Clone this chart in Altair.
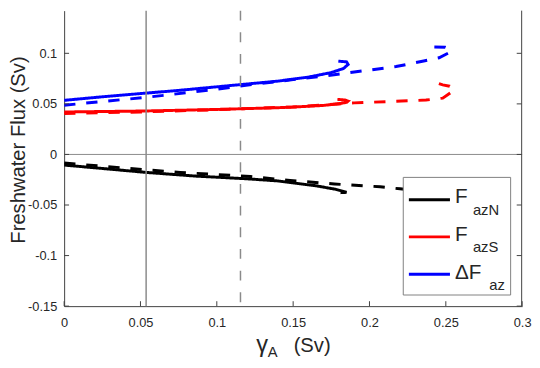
import altair as alt
import pandas as pd

# ---------------- data ----------------
dfN_solid_x = [0, 0.054, 0.087, 0.119, 0.14, 0.165, 0.178, 0.185, 0.181]
dfN_solid_y = [-0.0105, -0.0178, -0.0215, -0.024, -0.0262, -0.031, -0.0345, -0.0375, -0.0378]
dfN_dash_x = [0, 0.054, 0.076, 0.122, 0.148, 0.177, 0.207, 0.22, 0.24, 0.254, 0.248]
dfN_dash_y = [-0.0085, -0.0152, -0.0178, -0.0218, -0.0257, -0.0292, -0.032, -0.034, -0.037, -0.041, -0.044]

dfS_solid_x = [0, 0.054, 0.1, 0.14, 0.152, 0.17, 0.18, 0.185, 0.186, 0.184, 0.179]
dfS_solid_y = [0.042, 0.043, 0.0445, 0.0462, 0.047, 0.0485, 0.0502, 0.0515, 0.0528, 0.0538, 0.0545]
dfS_dash_x = [0, 0.05, 0.1, 0.15, 0.19, 0.221, 0.237, 0.248, 0.2535, 0.2555, 0.2525, 0.248, 0.241]
dfS_dash_y = [0.0405, 0.042, 0.0443, 0.047, 0.051, 0.0528, 0.0538, 0.0557, 0.0615, 0.065, 0.0675, 0.0688, 0.0723]

dD_solid_x = [0, 0.025, 0.054, 0.074, 0.115, 0.14, 0.16, 0.175, 0.183, 0.186, 0.185, 0.1796]
dD_solid_y = [0.0535, 0.057, 0.0607, 0.0632, 0.069, 0.0725, 0.0765, 0.081, 0.085, 0.089, 0.0915, 0.0923]
dD_dash_x = [0, 0.054, 0.1, 0.119, 0.15, 0.17, 0.19, 0.2174, 0.2355, 0.2456, 0.2523, 0.2535, 0.2495, 0.2415]
dD_dash_y = [0.0487, 0.0565, 0.0645, 0.0684, 0.074, 0.0775, 0.0815, 0.0869, 0.0924, 0.0956, 0.1008, 0.1035, 0.106, 0.1063]

series_names = ["FazN", "FazS", "dFaz"]
series_colors = ["#000000", "#ff0000", "#0000ff"]

x_ticks = [0, 0.05, 0.1, 0.15, 0.2, 0.25, 0.3]
y_ticks = [-0.15, -0.1, -0.05, 0, 0.05, 0.1]
zero_line = [0]
vline_solid = [0.0537]
vline_dashed = [0.1155]

legend_main = ["F", "F", "\u0394F"]
legend_sub = ["azN", "azS", "az"]
y_title = "Freshwater Flux (Sv)"
x_title_parts = ["\u03b3", "A", "(Sv)"]

# ---------------- build table ----------------
rows = []
curves = [
    ("FazN", "solid", dfN_solid_x, dfN_solid_y),
    ("FazN", "dashed", dfN_dash_x, dfN_dash_y),
    ("FazS", "solid", dfS_solid_x, dfS_solid_y),
    ("FazS", "dashed", dfS_dash_x, dfS_dash_y),
    ("dFaz", "solid", dD_solid_x, dD_solid_y),
    ("dFaz", "dashed", dD_dash_x, dD_dash_y),
]
for name, style, xs, ys in curves:
    for i, (a, b) in enumerate(zip(xs, ys)):
        rows.append({"series": name, "style": style, "key": name + style, "ord": i, "x": a, "y": b})
df = pd.DataFrame(rows)

FONT = "Liberation Sans"
W, H = 465, 300
AXC = "#404040"
TXT = "#262626"

xscale = alt.Scale(domain=[0, 0.3], nice=False, zero=False)
yscale = alt.Scale(domain=[-0.15, 0.1422], nice=False, zero=False)
fmt = "datum.value < 0 ? '-' + format(-datum.value, '.2~f') : format(datum.value, '.2~f')"
xaxis = alt.Axis(values=x_ticks, labelExpr=fmt, ticks=False, tickSize=0, grid=False,
                 domain=True, domainColor=AXC, domainWidth=1, labelFont=FONT, labelFontSize=13,
                 labelColor=TXT, labelPadding=11, labelFlush=False, labelOverlap=False,
                 labelBound=False, title=None)
yaxis = alt.Axis(values=y_ticks, labelExpr=fmt, ticks=False, tickSize=0, grid=False,
                 domain=True, domainColor=AXC, domainWidth=1, labelFont=FONT, labelFontSize=13,
                 labelColor=TXT, labelPadding=7.5, labelFlush=False, labelOverlap=False,
                 labelBound=False, title=None)

X = lambda: alt.X("x:Q", scale=xscale, axis=xaxis)
Y = lambda: alt.Y("y:Q", scale=yscale, axis=yaxis)

zero = alt.Chart(pd.DataFrame({"y": zero_line})).mark_rule(color="#8a8a8a", strokeWidth=1).encode(
    y=Y(), x=alt.value(0), x2=alt.value(W))

lines = alt.Chart(df).mark_line(strokeWidth=3, clip=True).encode(
    x=X(), y=Y(),
    color=alt.Color("series:N", scale=alt.Scale(domain=series_names, range=series_colors), legend=None),
    strokeDash=alt.StrokeDash("style:N", scale=alt.Scale(domain=["solid", "dashed"], range=[[1, 0], [11.5, 11]]), legend=None),
    detail="key:N",
    order=alt.Order("ord:Q"),
)

vs = alt.Chart(pd.DataFrame({"x": vline_solid})).mark_rule(color="#8a8a8a", strokeWidth=1.5).encode(
    x=X(), y=alt.value(0), y2=alt.value(H))
vd = alt.Chart(pd.DataFrame({"x": vline_dashed})).mark_rule(color="#8a8a8a", strokeWidth=1.5, strokeDash=[10, 12]).encode(
    x=X(), y=alt.value(0), y2=alt.value(H))

xt = alt.Chart(pd.DataFrame({"x": x_ticks})).mark_rule(color=AXC, strokeWidth=1).encode(
    x=X(), y=alt.value(H), y2=alt.value(H - 5))
ytl = alt.Chart(pd.DataFrame({"y": y_ticks})).mark_rule(color=AXC, strokeWidth=1).encode(
    y=Y(), x=alt.value(0), x2=alt.value(5))
ytr = alt.Chart(pd.DataFrame({"y": y_ticks})).mark_rule(color=AXC, strokeWidth=1).encode(
    y=Y(), x=alt.value(W - 0.5), x2=alt.value(W - 5.5))
raxis = alt.Chart(pd.DataFrame({"y": zero_line})).mark_rule(color=AXC, strokeWidth=1).encode(
    x=alt.value(W - 0.5), y=alt.value(0), y2=alt.value(H))

layers = [zero, lines, vs, vd, xt, ytl, ytr, raxis]

# legend (manual, to allow subscripts)
box = alt.Chart(pd.DataFrame({"a": [0]})).mark_rect(fill="white", stroke="#808080", strokeWidth=1).encode(
    x=alt.value(344.3), x2=alt.value(453.3), y=alt.value(169.3), y2=alt.value(288.7))
layers.append(box)
row_base = [195.3, 233.7, 272.0]
sample_y = [192.0, 229.7, 267.7]
for i in range(3):
    layers.append(alt.Chart(pd.DataFrame({"a": [0]})).mark_rule(color=series_colors[i], strokeWidth=3).encode(
        x=alt.value(350), x2=alt.value(391.7), y=alt.value(sample_y[i])))
    layers.append(alt.Chart(pd.DataFrame({"t": [legend_main[i]]})).mark_text(
        font=FONT, fontSize=21, align="left", baseline="alphabetic", color=TXT).encode(
        text="t:N", x=alt.value(396.7), y=alt.value(row_base[i])))
    layers.append(alt.Chart(pd.DataFrame({"t": [legend_sub[i]]})).mark_text(
        font=FONT, fontSize=15, align="left", baseline="alphabetic", color=TXT).encode(
        text="t:N", x=alt.value(431.7 if i == 2 else 415.0), y=alt.value(row_base[i] + 11.7)))

# axis titles
layers.append(alt.Chart(pd.DataFrame({"t": [y_title]})).mark_text(
    font=FONT, fontSize=20.5, align="center", baseline="alphabetic", angle=270, color=TXT).encode(
    text="t:N", x=alt.value(-39.5), y=alt.value(141.5)))
layers.append(alt.Chart(pd.DataFrame({"t": [x_title_parts[0]]})).mark_text(
    font=FONT, fontSize=24, align="left", baseline="alphabetic", color=TXT).encode(
    text="t:N", x=alt.value(195), y=alt.value(346.7)))
layers.append(alt.Chart(pd.DataFrame({"t": [x_title_parts[1]]})).mark_text(
    font=FONT, fontSize=15, align="left", baseline="alphabetic", color=TXT).encode(
    text="t:N", x=alt.value(206.7), y=alt.value(351.7)))
layers.append(alt.Chart(pd.DataFrame({"t": [x_title_parts[2]]})).mark_text(
    font=FONT, fontSize=20.5, align="left", baseline="alphabetic", color=TXT).encode(
    text="t:N", x=alt.value(233), y=alt.value(346.7)))

chart = alt.layer(*layers).properties(
    width=W, height=H,
    autosize=alt.AutoSizeParams(type="none"),
    padding={"left": 57, "top": 0, "right": 10, "bottom": 52},
).configure_view(stroke=None)

chart.save("out.html", embed_options={"renderer": "svg", "actions": False})
